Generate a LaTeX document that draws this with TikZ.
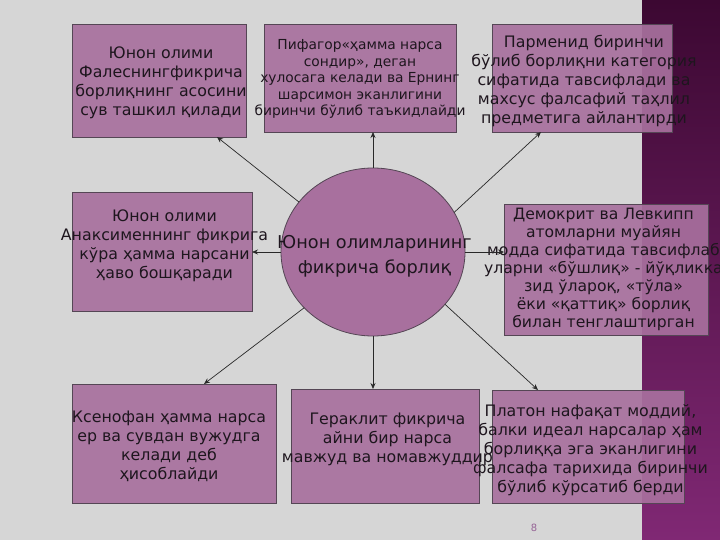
\documentclass[tikz,border=0pt]{standalone}
\usepackage{fontspec}
\setmainfont{DejaVu Sans}
\usetikzlibrary{arrows.meta,shapes.geometric}
\definecolor{bggray}{RGB}{214,214,214}
\definecolor{boxfill}{RGB}{168,112,158}
\definecolor{boxline}{RGB}{85,70,85}
\definecolor{txtcol}{RGB}{30,22,30}
\definecolor{arrcol}{RGB}{40,40,40}
\definecolor{striptop}{RGB}{60,8,50}
\definecolor{stripbot}{RGB}{128,40,116}
\definecolor{pagecol}{RGB}{150,100,150}
\tikzset{
  box/.style={draw=boxline, fill=boxfill, fill opacity=0.92, line width=0.8pt, inner sep=0pt, outer sep=0pt},
  ell/.style={ellipse, draw=boxline, fill=boxfill, line width=0.8pt, inner sep=0pt, outer sep=0pt},
  txt/.style={align=center, text=txtcol, inner sep=0pt, font=\fontsize{15.8}{19}\selectfont},
  arr/.style={-{Stealth[length=6pt,width=5pt]}, draw=arrcol, line width=0.7pt}
}
\begin{document}
\begin{tikzpicture}[x=1pt,y=-1pt]
\useasboundingbox (0,0) rectangle (720,540);
\fill[bggray] (0,0) rectangle (720,540);
\shade[top color=striptop, bottom color=stripbot] (642,0) rectangle (720,540);

% boxes
\node[box, minimum width=174pt, minimum height=113pt] (b1) at (159,80.5) {};
\node[box, minimum width=192pt, minimum height=108pt] (b2) at (360,78) {};
\node[box, minimum width=180pt, minimum height=108pt] (b3) at (582,78) {};
\node[box, minimum width=180pt, minimum height=119pt] (b4) at (162,251.5) {};
\node[box, minimum width=204pt, minimum height=131pt] (b5) at (606,269.5) {};
\node[box, minimum width=204pt, minimum height=119pt] (b6) at (174,443.5) {};
\node[box, minimum width=188pt, minimum height=114pt] (b7) at (385,446) {};
\node[box, minimum width=192pt, minimum height=113pt] (b8) at (588,446.5) {};
\node[ell, minimum width=184pt, minimum height=168pt] (e) at (373,252) {};

% texts
\node[txt] (t1) at (161,83) {Юнон олими\\Фалеснингфикрича\\борлиқнинг асосини\\сув ташкил қилади};
\node[txt, font=\fontsize{13.8}{16.5}\selectfont] (t2) at (360,79) {Пифагор«ҳамма нарса\\сондир», деган\\хулосага келади ва Ернинг\\шарсимон эканлигини\\биринчи бўлиб таъкидлайди};
\node[txt] (t3) at (584,81) {Парменид биринчи\\бўлиб борлиқни категория\\сифатида тавсифлади ва\\махсус фалсафий таҳлил\\предметига айлантирди};
\node[txt] (t4) at (164.5,245.5) {Юнон олими\\Анаксименнинг фикрига\\кўра ҳамма нарсани\\ҳаво бошқаради};
\node[txt, font=\fontsize{15.6}{18}\selectfont] (t5) at (603.5,269.5) {Демокрит ва Левкипп\\атомларни муайян\\модда сифатида тавсифлаб\\уларни «бўшлиқ» - йўқликка\\зид ўлароқ, «тўла»\\ёки «қаттиқ» борлиқ\\билан тенглаштирган};
\node[txt] (t6) at (169,446.5) {Ксенофан ҳамма нарса\\ер ва сувдан вужудга\\келади деб\\ҳисоблайди};
\node[txt] (t7) at (387.5,439.5) {Гераклит фикрича\\айни бир нарса\\мавжуд ва номавжуддир};
\node[txt] (t8) at (590.5,450) {Платон нафақат моддий,\\балки идеал нарсалар ҳам\\борлиққа эга эканлигини\\фалсафа тарихида биринчи\\бўлиб кўрсатиб берди};
\node[txt, font=\fontsize{17.7}{25}\selectfont] (te) at (374.5,256.5) {Юнон олимларининг\\фикрича борлиқ};

% arrows
\draw[arr] (e.146) -- ([xshift=58pt]b1.south);
\draw[arr] (e.north) -- (e.north |- b2.south);
\draw[arr] (e.26) -- ([xshift=-41pt]b3.south);
\draw[arr] (e.west) -- (e.west -| b4.east);
\draw[arr] (e.east) -- (e.east -| b5.west);
\draw[arr] (e.219) -- ([xshift=30pt]b6.north);
\draw[arr] (e.south) -- (e.south |- b7.north);
\draw[arr] (e.324) -- ([xshift=-50pt]b8.north);

\node[text=pagecol, font=\fontsize{10}{12}\selectfont] (pg) at (534,528) {8};
\end{tikzpicture}
\end{document}
